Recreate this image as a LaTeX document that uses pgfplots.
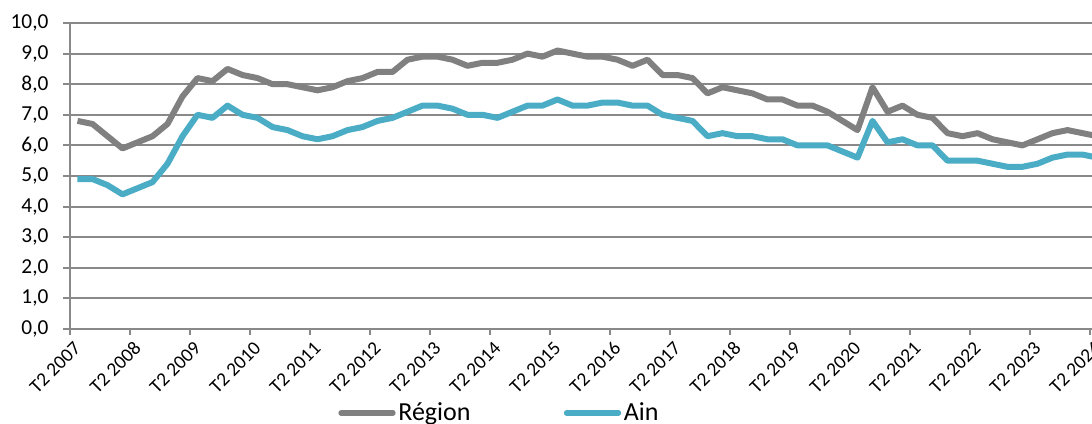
\documentclass[border=0pt]{standalone}
\usepackage{pgfplots}
\pgfplotsset{compat=1.18}
\usepackage{fontspec}
\setmainfont{Carlito}

\definecolor{region}{HTML}{808080}
\definecolor{ain}{HTML}{4BACC6}
\definecolor{gridgray}{HTML}{898989}

% quarterly series, index 0 = T2 2007
\pgfplotstableread{
i  region ain
0  6.8 4.9
1  6.7 4.9
2  6.3 4.7
3  5.9 4.4
4  6.1 4.6
5  6.3 4.8
6  6.7 5.4
7  7.6 6.3
8  8.2 7.0
9  8.1 6.9
10 8.5 7.3
11 8.3 7.0
12 8.2 6.9
13 8.0 6.6
14 8.0 6.5
15 7.9 6.3
16 7.8 6.2
17 7.9 6.3
18 8.1 6.5
19 8.2 6.6
20 8.4 6.8
21 8.4 6.9
22 8.8 7.1
23 8.9 7.3
24 8.9 7.3
25 8.8 7.2
26 8.6 7.0
27 8.7 7.0
28 8.7 6.9
29 8.8 7.1
30 9.0 7.3
31 8.9 7.3
32 9.1 7.5
33 9.0 7.3
34 8.9 7.3
35 8.9 7.4
36 8.8 7.4
37 8.6 7.3
38 8.8 7.3
39 8.3 7.0
40 8.3 6.9
41 8.2 6.8
42 7.7 6.3
43 7.9 6.4
44 7.8 6.3
45 7.7 6.3
46 7.5 6.2
47 7.5 6.2
48 7.3 6.0
49 7.3 6.0
50 7.1 6.0
51 6.8 5.8
52 6.5 5.6
53 7.9 6.8
54 7.1 6.1
55 7.3 6.2
56 7.0 6.0
57 6.9 6.0
58 6.4 5.5
59 6.3 5.5
60 6.4 5.5
61 6.2 5.4
62 6.1 5.3
63 6.0 5.3
64 6.2 5.4
65 6.4 5.6
66 6.5 5.7
67 6.4 5.7
68 6.3 5.6
}\chom

\begin{document}
\begin{tikzpicture}
\begin{axis}[
  name=ax,
  scale only axis,
  width=776.25pt, height=229.5pt,
  xmin=-0.5, xmax=68.5,
  ymin=0, ymax=10,
  axis x line=bottom, axis y line=left,
  axis line style={-, draw=gridgray, line width=1.4pt},
  ytick={0,1,...,10},
  xtick={0,4,...,68},
  xticklabels={T2 2007,T2 2008,T2 2009,T2 2010,T2 2011,T2 2012,T2 2013,T2 2014,T2 2015,T2 2016,T2 2017,T2 2018,T2 2019,T2 2020,T2 2021,T2 2022,T2 2023,T2 2024},
  minor xtick={-0.5,3.5,...,67.5},
  tick align=outside,
  x tick style={draw=none},
  minor x tick style={draw=gridgray, line width=1.4pt},
  minor tick length=4.5pt,
  y tick style={draw=gridgray, line width=1.4pt},
  major tick length=5pt,
  ymajorgrids=true,
  grid style={draw=gridgray, line width=1.4pt},
  tick label style={font=\fontsize{16}{19}\selectfont},
  xticklabel style={font=\fontsize{14.5}{17}\selectfont, rotate=45, anchor=east, inner sep=0pt, yshift=-5pt, xshift=-5pt},
  yticklabel style={anchor=east, inner sep=0pt, xshift=-11pt,
    /pgf/number format/.cd, fixed, fixed zerofill, precision=1, use comma, assume math mode=true},
  legend columns=2,
  legend style={draw=none, fill=none, at={(0.259,-0.2745)}, anchor=west,
    inner sep=0pt, font=\fontsize{19.5}{22}\selectfont,
    /tikz/every even column/.append style={column sep=68pt}},
  legend image code/.code={\draw[#1, line width=4pt, line cap=round] (0pt,0pt) -- (39pt,0pt);},
]
\addplot[region, line width=4.5pt, line join=round] table[x=i, y=region] {\chom};
\addlegendentry{Région}
\addplot[ain, line width=4.5pt, line join=round] table[x=i, y=ain] {\chom};
\addlegendentry{Ain}
\end{axis}
\pgfresetboundingbox
\path ([xshift=-52.5pt,yshift=-71.25pt]ax.south west) rectangle ([xshift=766.5pt,yshift=17.25pt]ax.north west);
\end{tikzpicture}
\end{document}
